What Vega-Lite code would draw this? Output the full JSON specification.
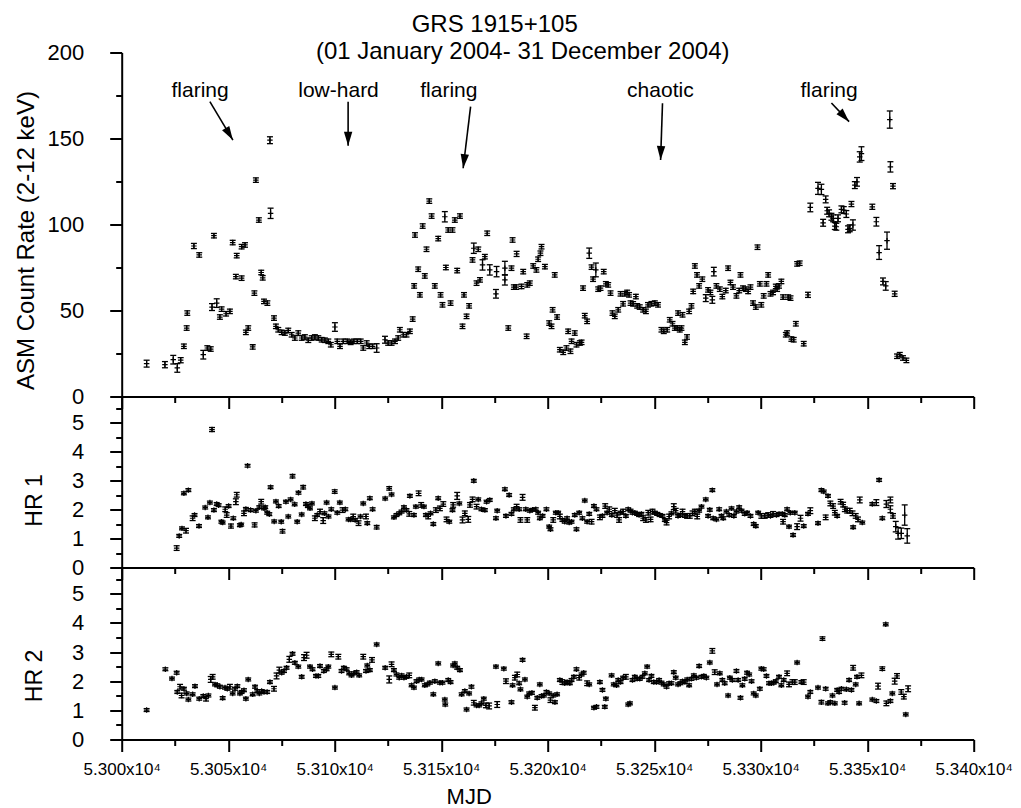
{
"$schema": "https://vega.github.io/schema/vega-lite/v6.json",
"autosize": {"type": "none"},
"padding": {"left": 121.7, "top": 52.5, "right": 899.3, "bottom": 755.5},
"background": "white",
"bounds": "flush",
"spacing": 0,
"title": {"text": "GRS 1915+105", "anchor": "middle", "frame": "group", "fontSize": 24, "dx": -53, "dy": 22, "offset": 6, "baseline": "alphabetic"},
"config": {
 "view": {"stroke": null},
 "font": "Liberation Sans",
 "axis": {"grid": false, "domainColor": "black", "domainWidth": 2, "tickColor": "black", "tickWidth": 2, "labelColor": "black", "titleColor": "black", "titleFontWeight": "normal", "labelFont": "Liberation Sans", "titleFont": "Liberation Sans", "labelFlush": false, "labelOverlap": false},
 "title": {"color": "black", "font": "Liberation Sans", "fontWeight": "normal", "fontSize": 24}
},
"datasets": {
"asm": [
{"t":53011.7,"c":19.1,"e":2},{"t":53020.3,"c":18.5,"e":1.8},{"t":53024.2,"c":21.4,"e":2.5},{"t":53026.1,"c":16.6,"e":2.5},{"t":53027.7,"c":21.1,"e":1.5},{"t":53029.2,"c":29.2,"e":1.3},{"t":53030.5,"c":39.8,"e":1.3},{"t":53030.8,"c":48.5,"e":1.3},{"t":53033.9,"c":87.5,"e":1.5},{"t":53036.4,"c":82.3,"e":1.3},{"t":53038.3,"c":24.3,"e":2.5},{"t":53040.2,"c":28.2,"e":1.3},{"t":53041.8,"c":27.6,"e":1.3},{"t":53042.4,"c":52.0,"e":2},{"t":53043.3,"c":93.5,"e":1.3},{"t":53044.6,"c":54.3,"e":2.5},{"t":53046.1,"c":46.2,"e":1.3},{"t":53046.9,"c":50.8,"e":1.3},{"t":53049.0,"c":48.1,"e":1.3},{"t":53050.8,"c":49.5,"e":1.3},{"t":53052.1,"c":89.5,"e":1.3},{"t":53053.6,"c":69.7,"e":1.3},{"t":53054.0,"c":81.9,"e":1.3},{"t":53056.3,"c":68.8,"e":1.3},{"t":53056.3,"c":87.1,"e":1.3},{"t":53057.9,"c":88.1,"e":1.3},{"t":53058.3,"c":37.3,"e":1.3},{"t":53059.4,"c":39.8,"e":1.3},{"t":53061.5,"c":28.8,"e":1.3},{"t":53062.3,"c":60.1,"e":1.3},{"t":53063.0,"c":125.8,"e":1.3},{"t":53064.4,"c":102.6,"e":1.3},{"t":53065.5,"c":72.1,"e":1.3},{"t":53066.2,"c":69.0,"e":1.3},{"t":53066.8,"c":55.3,"e":1.3},{"t":53068.4,"c":54.3,"e":1.3},{"t":53069.6,"c":149.0,"e":2},{"t":53069.9,"c":106.5,"e":3},{"t":53071.5,"c":45.6,"e":1.3},{"t":53072.4,"c":40.8,"e":1.3},{"t":53073.5,"c":38.8,"e":1.3},{"t":53075.1,"c":37.3,"e":1.3},{"t":53076.6,"c":36.9,"e":1.3},{"t":53078.2,"c":38.4,"e":1.3},{"t":53079.8,"c":35.9,"e":1.3},{"t":53081.3,"c":34.0,"e":1.3},{"t":53082.9,"c":36.9,"e":1.3},{"t":53084.5,"c":34.0,"e":1.3},{"t":53086.0,"c":34.6,"e":1.3},{"t":53087.6,"c":32.7,"e":1.3},{"t":53089.2,"c":34.0,"e":1.3},{"t":53090.7,"c":34.6,"e":1.3},{"t":53092.3,"c":34.0,"e":1.3},{"t":53093.9,"c":33.0,"e":1.3},{"t":53095.4,"c":32.7,"e":1.3},{"t":53097.0,"c":32.1,"e":1.3},{"t":53098.2,"c":30.1,"e":1.3},{"t":53100.1,"c":40.4,"e":2.5},{"t":53101.2,"c":32.1,"e":1.3},{"t":53102.5,"c":29.2,"e":1.3},{"t":53104.0,"c":32.1,"e":1.3},{"t":53105.9,"c":32.1,"e":1.3},{"t":53107.5,"c":31.5,"e":1.3},{"t":53109.0,"c":32.1,"e":1.3},{"t":53110.6,"c":32.1,"e":1.3},{"t":53112.2,"c":32.1,"e":1.3},{"t":53113.4,"c":28.2,"e":1.3},{"t":53115.0,"c":31.1,"e":1.3},{"t":53116.2,"c":29.2,"e":1.3},{"t":53117.8,"c":29.2,"e":1.3},{"t":53119.7,"c":28.2,"e":2.5},{"t":53123.6,"c":33.0,"e":2},{"t":53125.1,"c":31.1,"e":1.3},{"t":53126.7,"c":31.1,"e":1.3},{"t":53128.3,"c":32.1,"e":1.3},{"t":53129.8,"c":34.0,"e":1.3},{"t":53130.6,"c":38.8,"e":1.3},{"t":53132.2,"c":35.9,"e":1.3},{"t":53133.7,"c":35.9,"e":1.3},{"t":53135.3,"c":37.9,"e":1.3},{"t":53136.6,"c":45.0,"e":1.3},{"t":53137.3,"c":64.3,"e":1.3},{"t":53137.7,"c":93.9,"e":1.3},{"t":53139.2,"c":74.0,"e":1.3},{"t":53140.0,"c":59.1,"e":1.3},{"t":53141.3,"c":99.1,"e":1.3},{"t":53142.3,"c":70.1,"e":1.3},{"t":53143.1,"c":85.6,"e":1.3},{"t":53144.4,"c":113.6,"e":1.3},{"t":53145.5,"c":104.9,"e":1.3},{"t":53147.0,"c":64.3,"e":1.3},{"t":53148.6,"c":91.8,"e":1.3},{"t":53149.7,"c":59.1,"e":1.3},{"t":53150.6,"c":53.3,"e":1.3},{"t":53151.7,"c":104.5,"e":3},{"t":53152.2,"c":75.0,"e":1.3},{"t":53153.3,"c":96.8,"e":1.3},{"t":53154.4,"c":54.3,"e":1.3},{"t":53155.3,"c":96.8,"e":1.3},{"t":53156.4,"c":102.6,"e":1.3},{"t":53157.5,"c":73.2,"e":1.3},{"t":53158.8,"c":104.9,"e":1.3},{"t":53160.0,"c":40.8,"e":1.3},{"t":53160.7,"c":59.1,"e":1.3},{"t":53161.9,"c":46.6,"e":1.3},{"t":53163.1,"c":52.7,"e":1.3},{"t":53164.7,"c":79.4,"e":1.3},{"t":53165.3,"c":86.2,"e":3},{"t":53166.6,"c":65.9,"e":1.3},{"t":53167.4,"c":85.6,"e":1.3},{"t":53168.2,"c":67.8,"e":1.3},{"t":53169.4,"c":76.5,"e":3},{"t":53170.5,"c":81.3,"e":1.3},{"t":53171.6,"c":94.9,"e":1.3},{"t":53172.8,"c":73.6,"e":3},{"t":53175.7,"c":59.7,"e":2.5},{"t":53176.0,"c":72.6,"e":3},{"t":53179.9,"c":74.6,"e":4},{"t":53179.9,"c":67.8,"e":3},{"t":53181.5,"c":39.8,"e":1.3},{"t":53183.0,"c":74.6,"e":1.3},{"t":53183.5,"c":91.0,"e":1.3},{"t":53184.1,"c":63.6,"e":1.3},{"t":53185.2,"c":63.6,"e":1.3},{"t":53185.4,"c":82.9,"e":1.5},{"t":53187.7,"c":64.0,"e":1.3},{"t":53188.5,"c":72.6,"e":1.3},{"t":53190.1,"c":35.0,"e":1.3},{"t":53190.4,"c":64.9,"e":1.3},{"t":53191.6,"c":65.9,"e":1.3},{"t":53193.2,"c":75.9,"e":1.3},{"t":53194.7,"c":73.6,"e":1.3},{"t":53195.5,"c":79.8,"e":1.3},{"t":53196.6,"c":83.3,"e":1.3},{"t":53197.1,"c":87.1,"e":1.3},{"t":53198.7,"c":75.5,"e":1.3},
{"t":53203.3,"c":70.7,"e":1.3},{"t":53200.7,"c":42.7,"e":1.3},{"t":53202.3,"c":50.4,"e":1.3},{"t":53204.4,"c":46.2,"e":1.3},{"t":53201.8,"c":40.8,"e":1.3},{"t":53205.7,"c":27.2,"e":1.3},{"t":53207.3,"c":25.7,"e":1.3},{"t":53208.8,"c":28.2,"e":1.3},{"t":53209.6,"c":37.9,"e":1.3},{"t":53210.7,"c":26.3,"e":1.3},{"t":53211.2,"c":32.1,"e":1.3},{"t":53212.7,"c":36.9,"e":1.3},{"t":53213.5,"c":30.1,"e":1.3},{"t":53215.1,"c":31.1,"e":1.3},{"t":53215.9,"c":31.5,"e":1.3},{"t":53216.6,"c":63.0,"e":1.3},{"t":53217.4,"c":47.0,"e":1.3},{"t":53218.5,"c":43.7,"e":1.3},{"t":53219.5,"c":83.3,"e":3},{"t":53220.6,"c":75.2,"e":1.3},{"t":53221.3,"c":68.2,"e":1.3},{"t":53222.6,"c":73.6,"e":4},{"t":53223.7,"c":62.4,"e":1.3},{"t":53224.8,"c":63.0,"e":1.3},{"t":53226.3,"c":72.6,"e":1.3},{"t":53227.3,"c":65.5,"e":1.3},{"t":53228.4,"c":64.9,"e":1.3},{"t":53229.5,"c":60.1,"e":1.3},{"t":53230.4,"c":48.5,"e":1.3},{"t":53231.5,"c":46.6,"e":1.3},{"t":53233.1,"c":50.4,"e":1.3},{"t":53234.2,"c":59.7,"e":1.3},{"t":53235.4,"c":53.9,"e":1.3},{"t":53236.2,"c":59.7,"e":1.3},{"t":53237.3,"c":60.5,"e":1.3},{"t":53238.2,"c":59.1,"e":1.3},{"t":53238.9,"c":54.3,"e":1.3},{"t":53240.1,"c":53.9,"e":1.3},{"t":53241.4,"c":58.1,"e":1.3},{"t":53242.0,"c":52.7,"e":1.3},{"t":53243.2,"c":52.0,"e":1.3},{"t":53244.8,"c":50.4,"e":1.3},{"t":53246.1,"c":49.5,"e":1.3},{"t":53247.1,"c":53.3,"e":1.3},{"t":53248.7,"c":53.9,"e":1.3},{"t":53250.3,"c":54.3,"e":1.3},{"t":53251.8,"c":53.3,"e":1.3},{"t":53253.4,"c":38.8,"e":1.3},{"t":53254.5,"c":37.9,"e":1.3},{"t":53256.1,"c":38.8,"e":1.3},{"t":53257.3,"c":44.6,"e":1.3},{"t":53258.6,"c":42.3,"e":1.3},{"t":53259.7,"c":39.8,"e":1.3},{"t":53260.8,"c":39.8,"e":1.3},{"t":53261.2,"c":48.5,"e":1.3},{"t":53262.0,"c":38.8,"e":1.3},{"t":53262.8,"c":39.8,"e":1.3},{"t":53263.3,"c":47.5,"e":1.3},{"t":53264.4,"c":31.5,"e":1.3},{"t":53265.4,"c":34.6,"e":1.3},{"t":53266.4,"c":49.5,"e":1.3},{"t":53267.5,"c":52.7,"e":1.3},{"t":53268.3,"c":61.1,"e":1.3},{"t":53269.1,"c":75.9,"e":1.3},{"t":53270.1,"c":70.7,"e":1.3},{"t":53271.1,"c":64.3,"e":1.3},{"t":53272.6,"c":68.2,"e":1.3},{"t":53274.2,"c":57.2,"e":2},{"t":53275.3,"c":62.0,"e":1.3},{"t":53276.4,"c":60.5,"e":1.3},{"t":53277.3,"c":56.2,"e":2},{"t":53278.0,"c":72.6,"e":2.5},{"t":53279.2,"c":64.3,"e":1.3},{"t":53280.8,"c":62.4,"e":1.3},{"t":53282.0,"c":58.1,"e":1.3},{"t":53283.6,"c":61.6,"e":1.3},{"t":53284.7,"c":74.6,"e":1.3},{"t":53285.8,"c":66.3,"e":1.3},{"t":53287.0,"c":63.6,"e":1.3},{"t":53288.6,"c":58.5,"e":1.3},{"t":53289.9,"c":61.6,"e":1.3},{"t":53290.5,"c":70.7,"e":1.3},{"t":53291.7,"c":63.0,"e":1.3},{"t":53293.0,"c":62.4,"e":1.3},{"t":53294.1,"c":61.1,"e":1.3},{"t":53295.2,"c":63.6,"e":1.3},{"t":53296.4,"c":54.3,"e":1.3},{"t":53297.7,"c":52.0,"e":1.3},{"t":53298.5,"c":86.8,"e":1.3},{"t":53299.6,"c":65.5,"e":1.3},{"t":53300.3,"c":53.3,"e":1.3},{"t":53301.4,"c":58.5,"e":1.3},{"t":53302.7,"c":65.5,"e":1.3},{"t":53303.5,"c":70.7,"e":1.3},{"t":53304.6,"c":59.7,"e":1.3},{"t":53305.8,"c":60.5,"e":1.3},{"t":53307.1,"c":64.0,"e":1.3},{"t":53307.7,"c":62.4,"e":1.3},{"t":53308.6,"c":64.3,"e":1.3},{"t":53309.7,"c":66.9,"e":1.3},{"t":53310.5,"c":57.8,"e":1.3},{"t":53311.8,"c":35.9,"e":1.3},{"t":53312.4,"c":36.9,"e":1.3},{"t":53312.9,"c":57.8,"e":1.3},{"t":53314.0,"c":57.2,"e":1.3},{"t":53314.4,"c":33.4,"e":1.3},{"t":53315.5,"c":33.0,"e":1.3},{"t":53316.5,"c":42.3,"e":1.3},{"t":53317.1,"c":77.1,"e":1.3},{"t":53318.3,"c":77.5,"e":1.3},{"t":53320.2,"c":30.7,"e":1.3},{"t":53322.2,"c":59.1,"e":1.5},{"t":53323.3,"c":109.9,"e":2.5},{"t":53326.9,"c":121.0,"e":3.5},{"t":53328.5,"c":120.4,"e":3},{"t":53329.3,"c":101.0,"e":2},{"t":53330.5,"c":114.6,"e":2},{"t":53331.2,"c":108.0,"e":2},{"t":53332.1,"c":106.5,"e":2},{"t":53333.2,"c":104.5,"e":2},{"t":53334.0,"c":103.6,"e":2},{"t":53334.8,"c":99.1,"e":2},{"t":53335.5,"c":98.7,"e":2},{"t":53336.3,"c":103.6,"e":2},{"t":53337.9,"c":108.8,"e":2},{"t":53339.0,"c":108.4,"e":2},{"t":53340.2,"c":106.1,"e":2},{"t":53341.0,"c":97.2,"e":2},{"t":53341.8,"c":97.8,"e":2},{"t":53342.6,"c":111.9,"e":1.5},{"t":53343.3,"c":99.7,"e":3},{"t":53344.2,"c":122.9,"e":2},{"t":53345.2,"c":124.8,"e":2.5},{"t":53346.5,"c":139.3,"e":3},{"t":53347.3,"c":141.2,"e":4},{"t":53352.4,"c":110.3,"e":1.5},{"t":53354.3,"c":101.6,"e":2.5},{"t":53355.6,"c":83.7,"e":4},{"t":53357.4,"c":66.9,"e":2},{"t":53358.7,"c":64.3,"e":2.5},{"t":53359.3,"c":90.6,"e":5},{"t":53360.6,"c":161.0,"e":5},{"t":53360.9,"c":133.5,"e":3},{"t":53362.1,"c":122.3,"e":1.5},{"t":53362.9,"c":59.7,"e":1.5},{"t":53364.0,"c":23.4,"e":1.3},{"t":53365.3,"c":24.3,"e":1.3},{"t":53366.8,"c":22.4,"e":1.3},{"t":53368.4,"c":21.0,"e":1.3}
],
"hr1": [
{"t":53025.8,"h":0.67,"e":0.08},{"t":53027.0,"h":1.09,"e":0.05},{"t":53028.3,"h":1.35,"e":0.05},{"t":53030.2,"h":1.27,"e":0.08},{"t":53029.2,"h":2.56,"e":0.05},{"t":53031.3,"h":2.67,"e":0.05},{"t":53033.3,"h":1.70,"e":0.08},{"t":53034.2,"h":1.81,"e":0.05},{"t":53036.3,"h":1.43,"e":0.05},{"t":53039.2,"h":2.07,"e":0.05},{"t":53040.5,"h":1.73,"e":0.05},{"t":53041.4,"h":2.24,"e":0.05},{"t":53042.4,"h":4.76,"e":0.07},{"t":53043.3,"h":1.98,"e":0.05},{"t":53044.6,"h":2.19,"e":0.05},{"t":53045.5,"h":2.15,"e":0.05},{"t":53046.8,"h":1.58,"e":0.05},{"t":53047.4,"h":1.55,"e":0.05},{"t":53048.6,"h":2.01,"e":0.08},{"t":53049.3,"h":1.81,"e":0.08},{"t":53050.2,"h":2.12,"e":0.05},{"t":53051.3,"h":1.43,"e":0.07},{"t":53052.4,"h":1.70,"e":0.05},{"t":53054.0,"h":2.51,"e":0.08},{"t":53053.6,"h":2.27,"e":0.1},{"t":53055.5,"h":1.46,"e":0.05},{"t":53056.1,"h":1.48,"e":0.05},{"t":53057.4,"h":1.87,"e":0.08},{"t":53058.3,"h":2.02,"e":0.05},{"t":53059.1,"h":3.51,"e":0.05},{"t":53060.5,"h":1.98,"e":0.05},{"t":53062.4,"h":1.47,"e":0.07},{"t":53063.0,"h":1.96,"e":0.05},{"t":53064.6,"h":2.08,"e":0.05},{"t":53065.5,"h":2.27,"e":0.08},{"t":53066.8,"h":2.04,"e":0.05},{"t":53067.4,"h":2.08,"e":0.05},{"t":53068.3,"h":1.89,"e":0.05},{"t":53069.3,"h":1.84,"e":0.05},{"t":53069.9,"h":2.77,"e":0.05},{"t":53071.6,"h":1.59,"e":0.05},{"t":53072.4,"h":2.28,"e":0.05},{"t":53073.7,"h":2.12,"e":0.05},{"t":53074.9,"h":1.58,"e":0.05},{"t":53075.5,"h":1.25,"e":0.06},{"t":53077.1,"h":2.27,"e":0.05},{"t":53078.2,"h":1.76,"e":0.05},{"t":53079.3,"h":2.35,"e":0.05},{"t":53080.2,"h":3.15,"e":0.06},{"t":53081.2,"h":2.18,"e":0.05},{"t":53082.4,"h":1.58,"e":0.05},{"t":53083.0,"h":2.58,"e":0.05},{"t":53084.5,"h":1.83,"e":0.05},{"t":53085.2,"h":2.77,"e":0.06},{"t":53086.5,"h":2.19,"e":0.05},{"t":53087.4,"h":2.12,"e":0.05},{"t":53088.4,"h":2.04,"e":0.05},{"t":53089.3,"h":2.21,"e":0.05},{"t":53090.7,"h":1.70,"e":0.08},{"t":53091.8,"h":1.81,"e":0.05},{"t":53093.1,"h":1.93,"e":0.08},{"t":53094.6,"h":1.62,"e":0.1},{"t":53095.2,"h":1.87,"e":0.05},{"t":53096.2,"h":2.24,"e":0.05},{"t":53097.1,"h":1.76,"e":0.05},{"t":53098.4,"h":2.01,"e":0.05},{"t":53100.0,"h":2.62,"e":0.06},{"t":53101.2,"h":1.89,"e":0.05},{"t":53102.4,"h":2.24,"e":0.05},{"t":53103.7,"h":1.98,"e":0.08},{"t":53105.0,"h":2.01,"e":0.05},{"t":53106.5,"h":1.66,"e":0.05},{"t":53107.5,"h":1.66,"e":0.05},{"t":53108.7,"h":1.76,"e":0.08},{"t":53109.6,"h":1.64,"e":0.05},{"t":53111.2,"h":1.53,"e":0.08},{"t":53112.1,"h":1.76,"e":0.05},{"t":53113.4,"h":2.21,"e":0.05},{"t":53114.7,"h":1.76,"e":0.08},{"t":53115.3,"h":1.53,"e":0.05},{"t":53116.5,"h":2.39,"e":0.05},{"t":53117.8,"h":2.01,"e":0.05},{"t":53119.7,"h":1.39,"e":0.06},{"t":53123.7,"h":2.38,"e":0.05},{"t":53125.6,"h":2.73,"e":0.06},{"t":53126.7,"h":2.52,"e":0.05},{"t":53127.8,"h":1.73,"e":0.05},{"t":53129.0,"h":1.81,"e":0.05},{"t":53130.3,"h":1.87,"e":0.05},{"t":53131.4,"h":1.93,"e":0.05},{"t":53132.5,"h":2.08,"e":0.05},{"t":53133.7,"h":1.98,"e":0.05},{"t":53135.0,"h":1.85,"e":0.08},{"t":53135.3,"h":2.47,"e":0.05},{"t":53137.2,"h":1.81,"e":0.05},{"t":53138.1,"h":2.10,"e":0.05},{"t":53139.4,"h":2.56,"e":0.08},{"t":53140.6,"h":2.16,"e":0.08},{"t":53141.9,"h":2.10,"e":0.05},{"t":53142.8,"h":1.81,"e":0.05},{"t":53143.9,"h":1.76,"e":0.08},{"t":53145.0,"h":1.87,"e":0.05},{"t":53146.3,"h":1.50,"e":0.05},{"t":53147.5,"h":1.98,"e":0.08},{"t":53148.6,"h":2.39,"e":0.05},{"t":53149.4,"h":2.04,"e":0.08},{"t":53151.0,"h":2.19,"e":0.08},{"t":53152.5,"h":1.66,"e":0.08},{"t":53153.8,"h":1.58,"e":0.05},{"t":53155.3,"h":1.98,"e":0.05},{"t":53155.6,"h":2.16,"e":0.08},{"t":53157.5,"h":2.47,"e":0.12},{"t":53158.5,"h":2.21,"e":0.05},{"t":53160.0,"h":1.64,"e":0.1},{"t":53161.1,"h":1.87,"e":0.08},{"t":53162.7,"h":1.66,"e":0.1},{"t":53163.5,"h":2.16,"e":0.08},{"t":53164.7,"h":2.35,"e":0.08},{"t":53165.3,"h":2.99,"e":0.05},{"t":53166.6,"h":2.10,"e":0.08},{"t":53167.4,"h":2.35,"e":0.05},{"t":53168.9,"h":2.01,"e":0.05},{"t":53170.5,"h":1.98,"e":0.05},{"t":53171.3,"h":2.27,"e":0.05},{"t":53172.8,"h":2.33,"e":0.05},{"t":53175.7,"h":1.70,"e":0.05},{"t":53176.3,"h":1.96,"e":0.05},
{"t":53179.9,"h":2.70,"e":0.05},{"t":53181.9,"h":2.50,"e":0.05},{"t":53180.4,"h":1.78,"e":0.05},{"t":53183.0,"h":1.85,"e":0.05},{"t":53184.1,"h":2.01,"e":0.05},{"t":53185.4,"h":2.10,"e":0.08},{"t":53186.6,"h":2.01,"e":0.05},{"t":53188.2,"h":2.42,"e":0.1},{"t":53187.2,"h":1.64,"e":0.08},{"t":53189.7,"h":2.01,"e":0.05},{"t":53190.4,"h":1.64,"e":0.08},{"t":53191.6,"h":1.96,"e":0.05},{"t":53192.9,"h":1.99,"e":0.05},{"t":53194.4,"h":2.01,"e":0.05},{"t":53195.5,"h":1.89,"e":0.05},{"t":53196.3,"h":1.70,"e":0.05},{"t":53197.6,"h":1.78,"e":0.05},{"t":53199.4,"h":2.01,"e":0.05},{"t":53200.7,"h":1.41,"e":0.05},{"t":53201.3,"h":1.32,"e":0.05},{"t":53202.6,"h":1.64,"e":0.08},{"t":53203.8,"h":1.89,"e":0.05},{"t":53204.9,"h":1.89,"e":0.05},{"t":53205.7,"h":1.76,"e":0.08},{"t":53206.9,"h":1.64,"e":0.05},{"t":53208.0,"h":1.58,"e":0.05},{"t":53209.1,"h":1.70,"e":0.05},{"t":53210.1,"h":1.55,"e":0.05},{"t":53211.2,"h":1.58,"e":0.05},{"t":53212.7,"h":1.81,"e":0.05},{"t":53213.5,"h":1.32,"e":0.05},{"t":53214.8,"h":1.89,"e":0.05},{"t":53216.3,"h":1.70,"e":0.05},{"t":53217.4,"h":2.31,"e":0.05},{"t":53218.5,"h":1.58,"e":0.05},{"t":53219.5,"h":1.85,"e":0.05},{"t":53220.6,"h":1.58,"e":0.08},{"t":53221.7,"h":2.12,"e":0.05},{"t":53222.9,"h":2.01,"e":0.05},{"t":53224.5,"h":1.73,"e":0.08},{"t":53225.7,"h":1.78,"e":0.05},{"t":53227.0,"h":2.12,"e":0.08},{"t":53227.9,"h":1.89,"e":0.05},{"t":53228.9,"h":2.01,"e":0.08},{"t":53230.1,"h":1.81,"e":0.05},{"t":53231.5,"h":1.96,"e":0.08},{"t":53232.6,"h":1.81,"e":0.08},{"t":53233.5,"h":1.64,"e":0.08},{"t":53234.2,"h":1.89,"e":0.05},{"t":53235.4,"h":1.93,"e":0.08},{"t":53236.7,"h":1.78,"e":0.05},{"t":53237.8,"h":2.01,"e":0.05},{"t":53238.9,"h":1.96,"e":0.05},{"t":53239.8,"h":1.89,"e":0.05},{"t":53240.9,"h":1.89,"e":0.05},{"t":53242.0,"h":1.85,"e":0.05},{"t":53242.9,"h":1.81,"e":0.05},{"t":53244.0,"h":1.85,"e":0.05},{"t":53244.8,"h":1.70,"e":0.08},{"t":53246.1,"h":1.64,"e":0.08},{"t":53247.2,"h":1.89,"e":0.08},{"t":53248.3,"h":1.66,"e":0.08},{"t":53249.2,"h":1.93,"e":0.08},{"t":53250.3,"h":1.89,"e":0.05},{"t":53251.4,"h":1.85,"e":0.05},{"t":53252.6,"h":1.81,"e":0.05},{"t":53253.9,"h":1.78,"e":0.05},{"t":53255.0,"h":1.64,"e":0.05},{"t":53255.8,"h":1.55,"e":0.08},{"t":53257.0,"h":1.76,"e":0.08},{"t":53258.1,"h":1.87,"e":0.05},{"t":53259.2,"h":2.10,"e":0.1},{"t":53260.1,"h":1.96,"e":0.08},{"t":53261.2,"h":1.78,"e":0.05},{"t":53262.3,"h":1.81,"e":0.05},{"t":53263.3,"h":1.93,"e":0.08},{"t":53264.4,"h":1.78,"e":0.05},{"t":53265.5,"h":1.78,"e":0.08},{"t":53266.7,"h":1.78,"e":0.08},{"t":53268.0,"h":1.87,"e":0.08},{"t":53269.1,"h":1.93,"e":0.08},{"t":53270.2,"h":1.76,"e":0.08},{"t":53271.1,"h":1.96,"e":0.05},{"t":53272.2,"h":2.10,"e":0.05},{"t":53274.2,"h":2.35,"e":0.05},{"t":53277.3,"h":2.67,"e":0.05},{"t":53276.1,"h":1.99,"e":0.05},{"t":53275.3,"h":1.78,"e":0.05},{"t":53277.7,"h":1.70,"e":0.05},{"t":53279.2,"h":1.66,"e":0.05},{"t":53280.5,"h":2.01,"e":0.05},{"t":53281.6,"h":1.78,"e":0.05},{"t":53282.4,"h":1.70,"e":0.05},{"t":53283.9,"h":1.93,"e":0.05},{"t":53285.2,"h":1.81,"e":0.05},{"t":53286.3,"h":2.04,"e":0.05},{"t":53287.4,"h":1.78,"e":0.05},{"t":53288.6,"h":1.93,"e":0.05},{"t":53289.9,"h":2.08,"e":0.05},{"t":53291.0,"h":1.96,"e":0.05},{"t":53292.5,"h":1.85,"e":0.05},{"t":53293.6,"h":1.89,"e":0.05},{"t":53295.2,"h":1.78,"e":0.05},{"t":53296.7,"h":1.50,"e":0.05},{"t":53297.7,"h":1.43,"e":0.05},{"t":53298.8,"h":1.89,"e":0.05},{"t":53300.3,"h":1.78,"e":0.08},{"t":53301.9,"h":1.78,"e":0.08},{"t":53303.5,"h":1.81,"e":0.08},{"t":53304.6,"h":1.78,"e":0.05},{"t":53305.8,"h":1.85,"e":0.08},{"t":53307.4,"h":1.81,"e":0.05},{"t":53308.6,"h":1.85,"e":0.05},{"t":53310.2,"h":1.85,"e":0.05},{"t":53311.3,"h":1.81,"e":0.05},{"t":53312.4,"h":2.01,"e":0.05},{"t":53313.9,"h":1.89,"e":0.05},{"t":53316.0,"h":1.89,"e":0.05},{"t":53310.5,"h":1.58,"e":0.08},{"t":53313.3,"h":1.41,"e":0.05},{"t":53315.2,"h":1.12,"e":0.05},{"t":53317.1,"h":1.41,"e":0.1},{"t":53318.7,"h":1.70,"e":0.1},{"t":53320.2,"h":1.43,"e":0.05},{"t":53322.2,"h":1.85,"e":0.05},{"t":53323.3,"h":1.96,"e":0.1},{"t":53326.9,"h":1.53,"e":0.05},{"t":53328.5,"h":2.67,"e":0.05},{"t":53329.6,"h":2.62,"e":0.05},{"t":53331.6,"h":2.47,"e":0.05},{"t":53330.5,"h":1.73,"e":0.08},{"t":53332.7,"h":2.21,"e":0.08},{"t":53334.0,"h":2.12,"e":0.08},{"t":53334.8,"h":1.89,"e":0.08},{"t":53335.9,"h":1.78,"e":0.05},{"t":53337.5,"h":2.27,"e":0.08},{"t":53338.7,"h":2.17,"e":0.08},{"t":53339.5,"h":2.01,"e":0.08},{"t":53340.6,"h":1.96,"e":0.08},{"t":53341.8,"h":1.96,"e":0.08},{"t":53343.1,"h":1.87,"e":0.08},{"t":53343.4,"h":1.39,"e":0.05},{"t":53344.6,"h":1.78,"e":0.08},{"t":53345.7,"h":1.66,"e":0.08},{"t":53346.5,"h":2.33,"e":0.1},{"t":53347.7,"h":1.55,"e":0.05},{"t":53352.4,"h":2.19,"e":0.05},{"t":53354.3,"h":2.24,"e":0.1},{"t":53355.6,"h":3.02,"e":0.05},{"t":53357.1,"h":1.70,"e":0.05},{"t":53359.0,"h":2.19,"e":0.12},{"t":53360.9,"h":2.33,"e":0.1},{"t":53360.9,"h":2.01,"e":0.12},{"t":53362.1,"h":1.78,"e":0.08},{"t":53363.4,"h":1.41,"e":0.18},{"t":53364.5,"h":1.18,"e":0.2},{"t":53366.0,"h":1.18,"e":0.18},{"t":53367.6,"h":1.81,"e":0.35},{"t":53368.8,"h":1.09,"e":0.25}
],
"hr2": [
{"t":53011.7,"h":1.01,"e":0.05},{"t":53020.5,"h":2.41,"e":0.05},{"t":53023.6,"h":2.09,"e":0.05},{"t":53025.8,"h":2.29,"e":0.05},{"t":53026.1,"h":1.63,"e":0.05},{"t":53027.4,"h":1.81,"e":0.08},{"t":53028.1,"h":1.51,"e":0.08},{"t":53029.2,"h":1.74,"e":0.05},{"t":53030.5,"h":1.58,"e":0.05},{"t":53031.3,"h":1.37,"e":0.05},{"t":53033.3,"h":1.55,"e":0.05},{"t":53034.4,"h":1.83,"e":0.05},{"t":53036.4,"h":1.40,"e":0.05},{"t":53038.3,"h":1.49,"e":0.05},{"t":53039.6,"h":1.40,"e":0.08},{"t":53040.7,"h":1.51,"e":0.05},{"t":53041.8,"h":2.06,"e":0.1},{"t":53042.7,"h":2.15,"e":0.08},{"t":53043.8,"h":1.89,"e":0.05},{"t":53044.9,"h":1.86,"e":0.05},{"t":53046.1,"h":1.81,"e":0.05},{"t":53047.4,"h":1.42,"e":0.05},{"t":53048.5,"h":1.78,"e":0.05},{"t":53049.6,"h":1.74,"e":0.05},{"t":53050.8,"h":1.81,"e":0.08},{"t":53052.1,"h":1.58,"e":0.05},{"t":53053.2,"h":1.74,"e":0.05},{"t":53054.3,"h":1.83,"e":0.05},{"t":53055.5,"h":1.58,"e":0.05},{"t":53056.3,"h":1.63,"e":0.05},{"t":53057.4,"h":1.69,"e":0.05},{"t":53058.3,"h":1.40,"e":0.05},{"t":53059.4,"h":2.06,"e":0.05},{"t":53061.5,"h":1.55,"e":0.05},{"t":53062.6,"h":1.81,"e":0.05},{"t":53063.6,"h":1.66,"e":0.05},{"t":53064.6,"h":1.58,"e":0.05},{"t":53065.7,"h":1.66,"e":0.05},{"t":53066.8,"h":1.63,"e":0.05},{"t":53068.3,"h":1.63,"e":0.05},{"t":53069.6,"h":1.97,"e":0.05},{"t":53071.5,"h":1.74,"e":0.08},{"t":53072.7,"h":2.18,"e":0.1},{"t":53074.0,"h":2.38,"e":0.1},{"t":53075.1,"h":2.29,"e":0.05},{"t":53076.2,"h":2.35,"e":0.05},{"t":53077.4,"h":2.46,"e":0.05},{"t":53078.7,"h":2.75,"e":0.1},{"t":53080.2,"h":2.94,"e":0.05},{"t":53081.3,"h":2.63,"e":0.05},{"t":53082.9,"h":2.50,"e":0.05},{"t":53084.5,"h":2.15,"e":0.05},{"t":53085.6,"h":2.81,"e":0.1},{"t":53086.8,"h":2.89,"e":0.1},{"t":53088.4,"h":2.50,"e":0.05},{"t":53089.6,"h":2.41,"e":0.05},{"t":53091.2,"h":2.18,"e":0.05},{"t":53092.3,"h":2.18,"e":0.05},{"t":53093.1,"h":2.52,"e":0.05},{"t":53094.9,"h":2.35,"e":0.05},{"t":53096.2,"h":2.41,"e":0.05},{"t":53097.0,"h":2.50,"e":0.05},{"t":53098.4,"h":2.92,"e":0.08},{"t":53100.1,"h":1.78,"e":0.05},{"t":53101.7,"h":2.84,"e":0.08},{"t":53103.2,"h":2.35,"e":0.05},{"t":53104.3,"h":2.46,"e":0.05},{"t":53105.6,"h":2.41,"e":0.05},{"t":53106.8,"h":2.27,"e":0.05},{"t":53107.9,"h":2.20,"e":0.05},{"t":53109.0,"h":2.27,"e":0.05},{"t":53110.3,"h":2.31,"e":0.05},{"t":53111.5,"h":2.20,"e":0.05},{"t":53113.4,"h":2.84,"e":0.08},{"t":53114.7,"h":2.35,"e":0.05},{"t":53115.3,"h":2.54,"e":0.05},{"t":53116.5,"h":2.38,"e":0.05},{"t":53117.5,"h":2.73,"e":0.08},{"t":53119.7,"h":3.26,"e":0.05},{"t":53123.7,"h":2.46,"e":0.05},{"t":53125.6,"h":2.06,"e":0.12},{"t":53126.7,"h":2.58,"e":0.08},{"t":53127.8,"h":2.38,"e":0.05},{"t":53129.0,"h":2.23,"e":0.05},{"t":53130.3,"h":2.12,"e":0.05},{"t":53131.4,"h":2.20,"e":0.05},{"t":53132.5,"h":2.12,"e":0.05},{"t":53133.7,"h":2.15,"e":0.05},{"t":53135.0,"h":2.20,"e":0.08},{"t":53136.1,"h":1.86,"e":0.05},{"t":53137.2,"h":1.78,"e":0.05},{"t":53138.4,"h":2.00,"e":0.05},{"t":53139.7,"h":2.06,"e":0.05},{"t":53140.8,"h":2.06,"e":0.05},{"t":53142.3,"h":1.86,"e":0.05},{"t":53143.4,"h":1.89,"e":0.05},{"t":53144.7,"h":1.95,"e":0.05},{"t":53146.3,"h":1.55,"e":0.05},{"t":53147.0,"h":2.00,"e":0.05},{"t":53148.6,"h":2.61,"e":0.05},{"t":53149.4,"h":1.95,"e":0.05},{"t":53150.6,"h":1.95,"e":0.05},{"t":53151.7,"h":1.37,"e":0.05},{"t":53151.9,"h":1.20,"e":0.05},{"t":53153.3,"h":2.04,"e":0.05},{"t":53154.4,"h":1.97,"e":0.05},{"t":53155.6,"h":2.54,"e":0.05},{"t":53156.4,"h":2.61,"e":0.05},{"t":53157.5,"h":2.46,"e":0.05},{"t":53158.8,"h":2.38,"e":0.05},{"t":53159.6,"h":1.55,"e":0.05},{"t":53161.1,"h":1.66,"e":0.05},{"t":53161.9,"h":1.03,"e":0.05},{"t":53163.1,"h":1.58,"e":0.05},{"t":53164.2,"h":1.81,"e":0.05},{"t":53165.3,"h":1.26,"e":0.08},{"t":53166.6,"h":1.17,"e":0.05},{"t":53167.8,"h":1.17,"e":0.05},{"t":53168.9,"h":1.24,"e":0.05},{"t":53170.0,"h":1.40,"e":0.05},{"t":53171.0,"h":1.17,"e":0.08},{"t":53172.5,"h":1.15,"e":0.1},{"t":53175.7,"h":2.50,"e":0.05},{"t":53176.3,"h":1.20,"e":0.1},
{"t":53179.4,"h":2.43,"e":0.05},{"t":53180.4,"h":2.00,"e":0.08},{"t":53183.0,"h":1.28,"e":0.05},{"t":53183.5,"h":1.86,"e":0.05},{"t":53184.6,"h":2.12,"e":0.08},{"t":53185.7,"h":2.23,"e":0.08},{"t":53186.6,"h":1.93,"e":0.05},{"t":53187.2,"h":1.72,"e":0.05},{"t":53188.2,"h":2.73,"e":0.05},{"t":53189.3,"h":2.06,"e":0.05},{"t":53190.4,"h":1.47,"e":0.05},{"t":53191.3,"h":1.58,"e":0.05},{"t":53192.6,"h":1.60,"e":0.05},{"t":53194.0,"h":1.09,"e":0.08},{"t":53195.1,"h":1.43,"e":0.05},{"t":53196.3,"h":1.89,"e":0.05},{"t":53197.1,"h":1.49,"e":0.05},{"t":53198.2,"h":1.51,"e":0.05},{"t":53199.4,"h":1.63,"e":0.05},{"t":53200.7,"h":1.58,"e":0.05},{"t":53201.3,"h":1.35,"e":0.08},{"t":53202.6,"h":1.51,"e":0.05},{"t":53203.4,"h":1.28,"e":0.05},{"t":53204.4,"h":1.55,"e":0.05},{"t":53205.7,"h":2.04,"e":0.05},{"t":53206.9,"h":1.97,"e":0.08},{"t":53208.0,"h":1.93,"e":0.05},{"t":53209.1,"h":1.97,"e":0.05},{"t":53210.4,"h":1.93,"e":0.05},{"t":53211.2,"h":2.04,"e":0.05},{"t":53212.3,"h":2.15,"e":0.05},{"t":53213.5,"h":2.41,"e":0.05},{"t":53214.8,"h":2.12,"e":0.08},{"t":53215.9,"h":2.23,"e":0.05},{"t":53216.9,"h":2.29,"e":0.05},{"t":53218.5,"h":1.93,"e":0.08},{"t":53219.5,"h":1.89,"e":0.05},{"t":53221.7,"h":1.09,"e":0.05},{"t":53222.9,"h":1.12,"e":0.05},{"t":53224.5,"h":1.97,"e":0.05},{"t":53225.7,"h":1.70,"e":0.05},{"t":53226.8,"h":1.12,"e":0.05},{"t":53227.3,"h":1.40,"e":0.05},{"t":53230.0,"h":2.20,"e":0.05},{"t":53231.0,"h":1.89,"e":0.05},{"t":53232.3,"h":1.86,"e":0.05},{"t":53233.1,"h":2.04,"e":0.05},{"t":53234.2,"h":1.97,"e":0.05},{"t":53235.4,"h":2.12,"e":0.05},{"t":53236.7,"h":2.15,"e":0.08},{"t":53237.8,"h":1.20,"e":0.05},{"t":53238.6,"h":1.24,"e":0.05},{"t":53239.8,"h":2.04,"e":0.05},{"t":53240.9,"h":2.15,"e":0.05},{"t":53242.0,"h":2.08,"e":0.05},{"t":53243.2,"h":2.08,"e":0.05},{"t":53244.5,"h":2.15,"e":0.05},{"t":53245.6,"h":2.27,"e":0.05},{"t":53246.7,"h":2.50,"e":0.05},{"t":53247.6,"h":2.04,"e":0.05},{"t":53248.7,"h":2.18,"e":0.05},{"t":53249.8,"h":1.97,"e":0.05},{"t":53251.1,"h":1.97,"e":0.05},{"t":53252.3,"h":2.04,"e":0.05},{"t":53253.4,"h":1.95,"e":0.05},{"t":53254.5,"h":1.89,"e":0.05},{"t":53255.8,"h":1.81,"e":0.05},{"t":53257.0,"h":1.93,"e":0.05},{"t":53258.1,"h":1.93,"e":0.05},{"t":53259.2,"h":2.31,"e":0.05},{"t":53260.1,"h":2.12,"e":0.05},{"t":53261.2,"h":1.89,"e":0.05},{"t":53262.3,"h":1.93,"e":0.05},{"t":53263.3,"h":2.00,"e":0.05},{"t":53264.4,"h":1.97,"e":0.05},{"t":53265.5,"h":2.06,"e":0.05},{"t":53266.4,"h":1.86,"e":0.05},{"t":53267.5,"h":2.08,"e":0.05},{"t":53268.6,"h":2.20,"e":0.05},{"t":53269.8,"h":2.12,"e":0.05},{"t":53271.1,"h":2.52,"e":0.05},{"t":53272.2,"h":2.15,"e":0.05},{"t":53273.3,"h":2.18,"e":0.05},{"t":53274.5,"h":2.12,"e":0.05},{"t":53276.1,"h":2.64,"e":0.05},{"t":53277.3,"h":3.04,"e":0.08},{"t":53278.4,"h":2.31,"e":0.08},{"t":53279.5,"h":1.89,"e":0.05},{"t":53280.8,"h":2.27,"e":0.05},{"t":53282.0,"h":2.04,"e":0.05},{"t":53283.1,"h":1.93,"e":0.05},{"t":53284.7,"h":1.51,"e":0.05},{"t":53285.5,"h":2.12,"e":0.05},{"t":53286.7,"h":2.04,"e":0.05},{"t":53288.6,"h":2.35,"e":0.05},{"t":53289.4,"h":2.04,"e":0.05},{"t":53290.5,"h":1.43,"e":0.05},{"t":53291.4,"h":1.86,"e":0.05},{"t":53292.5,"h":2.08,"e":0.05},{"t":53293.6,"h":2.29,"e":0.05},{"t":53294.6,"h":2.23,"e":0.05},{"t":53295.7,"h":2.00,"e":0.05},{"t":53296.7,"h":1.58,"e":0.05},{"t":53297.7,"h":1.51,"e":0.05},{"t":53299.6,"h":1.74,"e":0.05},{"t":53300.3,"h":2.43,"e":0.05},{"t":53301.4,"h":2.41,"e":0.05},{"t":53302.7,"h":2.18,"e":0.05},{"t":53303.9,"h":1.93,"e":0.05},{"t":53305.0,"h":1.93,"e":0.05},{"t":53306.1,"h":1.95,"e":0.05},{"t":53307.1,"h":2.00,"e":0.05},{"t":53308.6,"h":2.15,"e":0.05},{"t":53309.7,"h":1.86,"e":0.05},{"t":53310.8,"h":2.04,"e":0.05},{"t":53312.4,"h":2.27,"e":0.08},{"t":53313.3,"h":1.89,"e":0.08},{"t":53314.9,"h":1.97,"e":0.08},{"t":53316.0,"h":1.97,"e":0.08},{"t":53317.1,"h":2.64,"e":0.05},{"t":53319.1,"h":1.97,"e":0.05},{"t":53320.2,"h":1.97,"e":0.08},{"t":53322.2,"h":1.47,"e":0.05},{"t":53323.3,"h":1.63,"e":0.05},{"t":53326.9,"h":1.78,"e":0.05},{"t":53329.0,"h":3.46,"e":0.06},{"t":53328.5,"h":1.28,"e":0.06},{"t":53330.5,"h":1.74,"e":0.05},{"t":53331.6,"h":1.24,"e":0.05},{"t":53332.7,"h":1.28,"e":0.05},{"t":53333.7,"h":1.51,"e":0.05},{"t":53334.8,"h":1.24,"e":0.05},{"t":53335.9,"h":1.70,"e":0.05},{"t":53336.8,"h":1.63,"e":0.05},{"t":53337.9,"h":1.74,"e":0.05},{"t":53339.4,"h":1.26,"e":0.05},{"t":53340.2,"h":1.72,"e":0.05},{"t":53341.5,"h":2.04,"e":0.05},{"t":53342.6,"h":1.70,"e":0.05},{"t":53343.4,"h":2.46,"e":0.08},{"t":53344.6,"h":1.89,"e":0.05},{"t":53345.2,"h":2.15,"e":0.05},{"t":53347.3,"h":2.20,"e":0.08},{"t":53346.2,"h":1.24,"e":0.05},{"t":53352.4,"h":1.37,"e":0.05},{"t":53354.3,"h":1.32,"e":0.05},{"t":53355.1,"h":1.83,"e":0.1},{"t":53357.1,"h":2.43,"e":0.06},{"t":53358.7,"h":3.95,"e":0.05},{"t":53359.0,"h":1.24,"e":0.08},{"t":53360.9,"h":1.32,"e":0.05},{"t":53361.8,"h":1.58,"e":0.05},{"t":53362.9,"h":2.00,"e":0.1},{"t":53364.0,"h":2.18,"e":0.08},{"t":53366.0,"h":1.63,"e":0.08},{"t":53367.2,"h":1.47,"e":0.08},{"t":53368.1,"h":0.86,"e":0.05},{"t":53369.2,"h":1.74,"e":0.1}
],
"notes": [
{"t":53036.8,"c":174.1,"label":"flaring"},{"t":53101.8,"c":174.1,"label":"low-hard"},{"t":53153.6,"c":174.1,"label":"flaring"},{"t":53252.9,"c":174.1,"label":"chaotic"},{"t":53332.1,"c":174.1,"label":"flaring"}
],
"arrows": [
{"k":"a1","t0":53041.4,"c0":171.4,"t":53052.2,"c":149.1},
{"k":"a2","t0":53106.3,"c0":171.4,"t":53106.3,"c":145.8},
{"k":"a3","t0":53163.8,"c0":168.5,"t":53160.3,"c":132.7},
{"k":"a4","t0":53253.9,"c0":170.5,"t":53253.0,"c":137.5},
{"k":"a5","t0":53333.2,"c0":170.6,"t":53341.5,"c":159.8}
]
},
"vconcat": [
{
 "width": 852, "height": 344,
 "title": {"text": "(01 January 2004- 31 December 2004)", "anchor": "middle", "frame": "group", "fontSize": 24, "dx": -25, "dy": 35, "offset": -6, "baseline": "alphabetic"},
 "resolve": {"axis": {"y": "independent"}},
 "encoding": {
  "x": {"field": "t", "type": "quantitative", "scale": {"domain": [53000, 53400], "nice": false, "zero": false},
   "axis": {"values": [53000,53025,53050,53075,53100,53125,53150,53175,53200,53225,53250,53275,53300,53325,53350,53375,53400], "labels": false, "title": null, "tickSize": {"condition": {"test": "datum.value % 50 === 0", "value": 12}, "value": 6}}}
 },
 "layer": [
  {"data": {"name": "asm"}, "mark": {"type": "errorbar", "ticks": {"size": 6, "thickness": 1.3, "opacity": 1}, "rule": {"strokeWidth": 1.3}, "color": "black", "opacity": 1},
   "encoding": {"y": {"field": "c", "type": "quantitative", "scale": {"domain": [0, 200], "nice": false, "zero": false},
     "axis": {"orient": "left", "values": [0,50,100,150,200], "tickSize": 12, "labelFontSize": 22, "labelPadding": 26, "title": "ASM Count Rate (2-12 keV)", "titleFontSize": 24, "titleAngle": 270, "titleX": -88.4, "titleY": 187.5, "titleAlign": "center", "titleBaseline": "alphabetic"}},
    "yError": {"field": "e"}}},
  {"data": {"name": "asm"}, "mark": {"type": "point", "shape": "M-1,0L1,0M0,-1L0,1", "size": 30, "filled": false, "color": "black", "strokeWidth": 1.2, "opacity": 1},
   "encoding": {"y": {"field": "c", "type": "quantitative", "axis": {"orient": "left", "values": [25,75,125,175], "tickSize": 6, "labels": false, "domain": false, "title": null}}}},
  {"data": {"name": "notes"}, "mark": {"type": "text", "fontSize": 21, "baseline": "alphabetic", "align": "center", "color": "black", "font": "Liberation Sans"},
   "encoding": {"y": {"field": "c", "type": "quantitative", "axis": null}, "text": {"field": "label"}}},
  {"data": {"name": "arrows"}, "mark": {"type": "rule", "color": "black", "strokeWidth": 1.6},
   "encoding": {"y": {"field": "c", "type": "quantitative", "axis": null}, "x2": {"field": "t0"}, "y2": {"field": "c0"}}},
  {"data": {"name": "arrows"}, "transform": [{"filter": "datum.k === 'a1'"}], "mark": {"type": "point", "shape": "M0,0L-0.3,-1L0.3,-1Z", "size": 784, "filled": true, "color": "black", "opacity": 1, "angle": 329}, "encoding": {"y": {"field": "c", "type": "quantitative", "axis": null}}},
  {"data": {"name": "arrows"}, "transform": [{"filter": "datum.k === 'a2'"}], "mark": {"type": "point", "shape": "M0,0L-0.3,-1L0.3,-1Z", "size": 784, "filled": true, "color": "black", "opacity": 1, "angle": 0}, "encoding": {"y": {"field": "c", "type": "quantitative", "axis": null}}},
  {"data": {"name": "arrows"}, "transform": [{"filter": "datum.k === 'a3'"}], "mark": {"type": "point", "shape": "M0,0L-0.3,-1L0.3,-1Z", "size": 784, "filled": true, "color": "black", "opacity": 1, "angle": 7}, "encoding": {"y": {"field": "c", "type": "quantitative", "axis": null}}},
  {"data": {"name": "arrows"}, "transform": [{"filter": "datum.k === 'a4'"}], "mark": {"type": "point", "shape": "M0,0L-0.3,-1L0.3,-1Z", "size": 784, "filled": true, "color": "black", "opacity": 1, "angle": 2}, "encoding": {"y": {"field": "c", "type": "quantitative", "axis": null}}},
  {"data": {"name": "arrows"}, "transform": [{"filter": "datum.k === 'a5'"}], "mark": {"type": "point", "shape": "M0,0L-0.3,-1L0.3,-1Z", "size": 784, "filled": true, "color": "black", "opacity": 1, "angle": 317}, "encoding": {"y": {"field": "c", "type": "quantitative", "axis": null}}}
 ]
},
{
 "width": 852, "height": 171,
 "data": {"name": "hr1"},
 "resolve": {"axis": {"y": "independent"}},
 "encoding": {
  "x": {"field": "t", "type": "quantitative", "scale": {"domain": [53000, 53400], "nice": false, "zero": false},
   "axis": {"values": [53000,53025,53050,53075,53100,53125,53150,53175,53200,53225,53250,53275,53300,53325,53350,53375,53400], "labels": false, "title": null, "tickSize": {"condition": {"test": "datum.value % 50 === 0", "value": 12}, "value": 6}}}
 },
 "layer": [
  {"mark": {"type": "errorbar", "ticks": {"size": 6, "thickness": 1.3, "opacity": 1}, "rule": {"strokeWidth": 1.3}, "color": "black", "opacity": 1},
   "encoding": {"y": {"field": "h", "type": "quantitative", "scale": {"domain": [0, 5.9], "nice": false, "zero": false},
     "axis": {"orient": "left", "values": [0,1,2,3,4,5], "format": "d", "tickSize": 12, "labelFontSize": 22, "labelPadding": 26, "title": "HR 1", "titleFontSize": 23, "titleAngle": 270, "titleX": -80, "titleY": 103.5, "titleAlign": "center", "titleBaseline": "alphabetic"}},
    "yError": {"field": "e"}}},
  {"mark": {"type": "point", "shape": "M-1,0L1,0M0,-1L0,1", "size": 30, "filled": false, "color": "black", "strokeWidth": 1.2, "opacity": 1},
   "encoding": {"y": {"field": "h", "type": "quantitative", "axis": {"orient": "left", "values": [0.5,1.5,2.5,3.5,4.5,5.5], "tickSize": 6, "labels": false, "domain": false, "title": null}}}}
 ]
},
{
 "width": 852, "height": 172,
 "data": {"name": "hr2"},
 "resolve": {"axis": {"y": "independent"}},
 "encoding": {
  "x": {"field": "t", "type": "quantitative", "scale": {"domain": [53000, 53400], "nice": false, "zero": false},
   "axis": {"values": [53000,53025,53050,53075,53100,53125,53150,53175,53200,53225,53250,53275,53300,53325,53350,53375,53400], "tickSize": {"condition": {"test": "datum.value % 50 === 0", "value": 12}, "value": 6}, "labelExpr": "datum.value % 50 === 0 ? format(datum.value / 10000, '.3f') + 'x10⁴' : ''", "labelFontSize": 17, "labelPadding": 10, "title": "MJD", "titleFontSize": 22, "titleX": 347, "titleY": 64, "titleAlign": "center", "titleBaseline": "alphabetic"}}
 },
 "layer": [
  {"mark": {"type": "errorbar", "ticks": {"size": 6, "thickness": 1.3, "opacity": 1}, "rule": {"strokeWidth": 1.3}, "color": "black", "opacity": 1},
   "encoding": {"y": {"field": "h", "type": "quantitative", "scale": {"domain": [0, 5.9], "nice": false, "zero": false},
     "axis": {"orient": "left", "values": [0,1,2,3,4,5], "format": "d", "tickSize": 12, "labelFontSize": 22, "labelPadding": 26, "title": "HR 2", "titleFontSize": 23, "titleAngle": 270, "titleX": -80, "titleY": 108, "titleAlign": "center", "titleBaseline": "alphabetic"}},
    "yError": {"field": "e"}}},
  {"mark": {"type": "point", "shape": "M-1,0L1,0M0,-1L0,1", "size": 30, "filled": false, "color": "black", "strokeWidth": 1.2, "opacity": 1},
   "encoding": {"y": {"field": "h", "type": "quantitative", "axis": {"orient": "left", "values": [0.5,1.5,2.5,3.5,4.5,5.5], "tickSize": 6, "labels": false, "domain": false, "title": null}}}}
 ]
}
]
}
